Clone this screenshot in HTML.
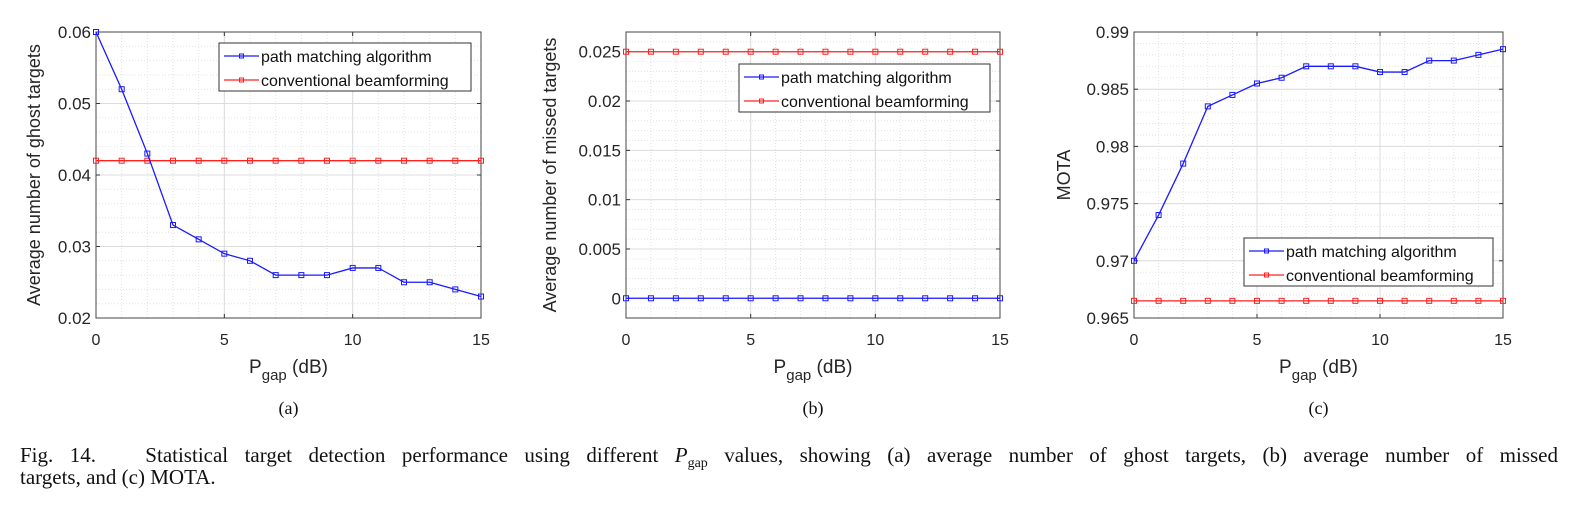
<!DOCTYPE html>
<html><head><meta charset="utf-8"><style>
body{margin:0;background:#fff;width:1573px;height:507px;overflow:hidden;position:relative;font-family:"Liberation Sans",sans-serif}
svg{position:absolute;left:0;top:0}
.cap{position:absolute;left:20px;width:1538px;font-family:"Liberation Serif",serif;font-size:21px;color:#111;line-height:22px;white-space:nowrap}
.j{text-align:justify;text-align-last:justify;white-space:normal}
</style></head><body>
<svg id="s" width="1573" height="420"></svg>
<div class="cap j" style="top:444px">Fig. 14.&nbsp;&nbsp;&nbsp;Statistical target detection performance using different <i>P</i><sub style="font-size:14px;line-height:0">gap</sub> values, showing (a) average number of ghost targets, (b) average number of missed</div>
<div class="cap" style="top:466px">targets, and (c) MOTA.</div>
<script>
const xVals=[0,1,2,3,4,5,6,7,8,9,10,11,12,13,14,15];
const xTicks=[0,5,10,15];
const ghostPath=[0.060,0.052,0.043,0.033,0.031,0.029,0.028,0.026,0.026,0.026,0.027,0.027,0.025,0.025,0.024,0.023];
const ghostConv=[0.042,0.042,0.042,0.042,0.042,0.042,0.042,0.042,0.042,0.042,0.042,0.042,0.042,0.042,0.042,0.042];
const missPath=[0,0,0,0,0,0,0,0,0,0,0,0,0,0,0,0];
const missConv=[0.025,0.025,0.025,0.025,0.025,0.025,0.025,0.025,0.025,0.025,0.025,0.025,0.025,0.025,0.025,0.025];
const motaPath=[0.970,0.974,0.9785,0.9835,0.9845,0.9855,0.986,0.987,0.987,0.987,0.9865,0.9865,0.9875,0.9875,0.988,0.9885];
const motaConv=[0.9665,0.9665,0.9665,0.9665,0.9665,0.9665,0.9665,0.9665,0.9665,0.9665,0.9665,0.9665,0.9665,0.9665,0.9665,0.9665];
const ticksA=["0.02","0.03","0.04","0.05","0.06"];
const ticksB=["0","0.005","0.01","0.015","0.02","0.025"];
const ticksC=["0.965","0.97","0.975","0.98","0.985","0.99"];
const NS="http://www.w3.org/2000/svg";
const svg=document.getElementById('s');
function el(t,a,p){const e=document.createElementNS(NS,t);for(const k in a)e.setAttribute(k,a[k]);(p||svg).appendChild(e);return e;}
function panel(cfg){
  const g=el('g',{});
  
  
  const X=v=>cfg.x0+(v-0)/(15-0)*(cfg.x1-cfg.x0);
  const Y=v=>cfg.y1-(v-cfg.ymin)/(cfg.ymax-cfg.ymin)*(cfg.y1-cfg.y0);
  el('rect',{x:cfg.x0,y:cfg.y0,width:cfg.x1-cfg.x0,height:cfg.y1-cfg.y0,fill:'#fff'},g);
  for(const v of xVals){el('line',{x1:X(v),x2:X(v),y1:cfg.y0,y2:cfg.y1,stroke:'#e2e2e2','stroke-width':1,'stroke-dasharray':'1,2'},g);}
  for(let v=cfg.ymin;v<=cfg.ymax+1e-9;v+=cfg.minor){el('line',{x1:cfg.x0,x2:cfg.x1,y1:Y(v),y2:Y(v),stroke:'#e2e2e2','stroke-width':1,'stroke-dasharray':'1,2'},g);}
  for(const v of xTicks){
    el('line',{x1:X(v),x2:X(v),y1:cfg.y0,y2:cfg.y1,stroke:'#dcdcdc','stroke-width':1},g);
    el('line',{x1:X(v),x2:X(v),y1:cfg.y1,y2:cfg.y1-4,stroke:'#333'},g);
    el('line',{x1:X(v),x2:X(v),y1:cfg.y0,y2:cfg.y0+4,stroke:'#333'},g);
    const t=el('text',{x:X(v),y:cfg.y1+27,'text-anchor':'middle','font-size':16,fill:'#262626'},g);t.textContent=v;
    
    
  }
  for(const s of cfg.ticks){
    const v=parseFloat(s);
    el('line',{x1:cfg.x0,x2:cfg.x1,y1:Y(v),y2:Y(v),stroke:'#dcdcdc','stroke-width':1},g);
    el('line',{x1:cfg.x0,x2:cfg.x0+4,y1:Y(v),y2:Y(v),stroke:'#333'},g);
    el('line',{x1:cfg.x1,x2:cfg.x1-4,y1:Y(v),y2:Y(v),stroke:'#333'},g);
    const t=el('text',{x:cfg.x0-5,y:Y(v)+6,'text-anchor':'end','font-size':17,fill:'#262626'},g);t.textContent=s;
    
    
  }
  el('rect',{x:cfg.x0,y:cfg.y0,width:cfg.x1-cfg.x0,height:cfg.y1-cfg.y0,fill:'none',stroke:'#444','stroke-width':1},g);
  function series(arr,col,nm){
    const pl=el('polyline',{points:arr.map((v,i)=>X(xVals[i])+','+Y(v)).join(' '),fill:'none',stroke:col,'stroke-width':1.3},g);
    
    
    arr.forEach((v,i)=>{el('rect',{x:X(xVals[i])-2.5,y:Y(v)-2.5,width:5,height:5,fill:'none',stroke:col,'stroke-width':1},g);});
  }
  series(cfg.conv,'#ff2020','conventional-beamforming-line');
  series(cfg.path,'#1a1aff','path-matching-line');
  const L=cfg.leg;
  const lg=el('g',{},g);
  
  
  el('rect',{x:L[0],y:L[1],width:L[2],height:48,fill:'#fff',stroke:'#333','stroke-width':1},lg);
  [['path matching algorithm','#1a1aff'],['conventional beamforming','#ff2020']].forEach((e,i)=>{
    const yy=L[1]+13+i*24;
    el('line',{x1:L[0]+5,x2:L[0]+40,y1:yy,y2:yy,stroke:e[1],'stroke-width':1.3},lg);
    el('rect',{x:L[0]+20.5,y:yy-2,width:4,height:4,fill:'none',stroke:e[1]},lg);
    const t=el('text',{x:L[0]+42,y:yy+6,'font-size':16,fill:'#111'},lg);t.textContent=e[0];
    
    
  });
  const xl=el('text',{x:(cfg.x0+cfg.x1)/2,y:373,'text-anchor':'middle','font-size':19,fill:'#262626'},g);
  
  
  xl.innerHTML='P<tspan dy="7" font-size="15">gap</tspan><tspan dy="-7"> (dB)</tspan>';
  const yl=el('text',{transform:`translate(${cfg.ylx},${(cfg.y0+cfg.y1)/2}) rotate(-90)`,'text-anchor':'middle','font-size':18,fill:'#262626'},g);
  yl.textContent=cfg.ylabel;
  
  
  const c=el('text',{x:(cfg.x0+cfg.x1)/2,y:414,'text-anchor':'middle','font-size':18,'font-family':'Liberation Serif, serif',fill:'#111'},g);
  c.textContent=cfg.cap;
  
  
}
panel({name:'panel-a-ghost',x0:96,x1:481,y0:32,y1:318,ymin:0.02,ymax:0.06,minor:0.002,ticks:ticksA,path:ghostPath,conv:ghostConv,leg:[219,43,252],ylabel:'Average number of ghost targets',ylx:40,cap:'(a)'});
panel({name:'panel-b-missed',x0:626,x1:1000,y0:32,y1:318,ymin:-0.002,ymax:0.027,minor:0.001,ticks:ticksB,path:missPath,conv:missConv,leg:[739,64,251],ylabel:'Average number of missed targets',ylx:556,cap:'(b)'});
panel({name:'panel-c-mota',x0:1134,x1:1503,y0:32,y1:318,ymin:0.965,ymax:0.99,minor:0.001,ticks:ticksC,path:motaPath,conv:motaConv,leg:[1244,238,249],ylabel:'MOTA',ylx:1070,cap:'(c)'});
</script>
</body></html>
